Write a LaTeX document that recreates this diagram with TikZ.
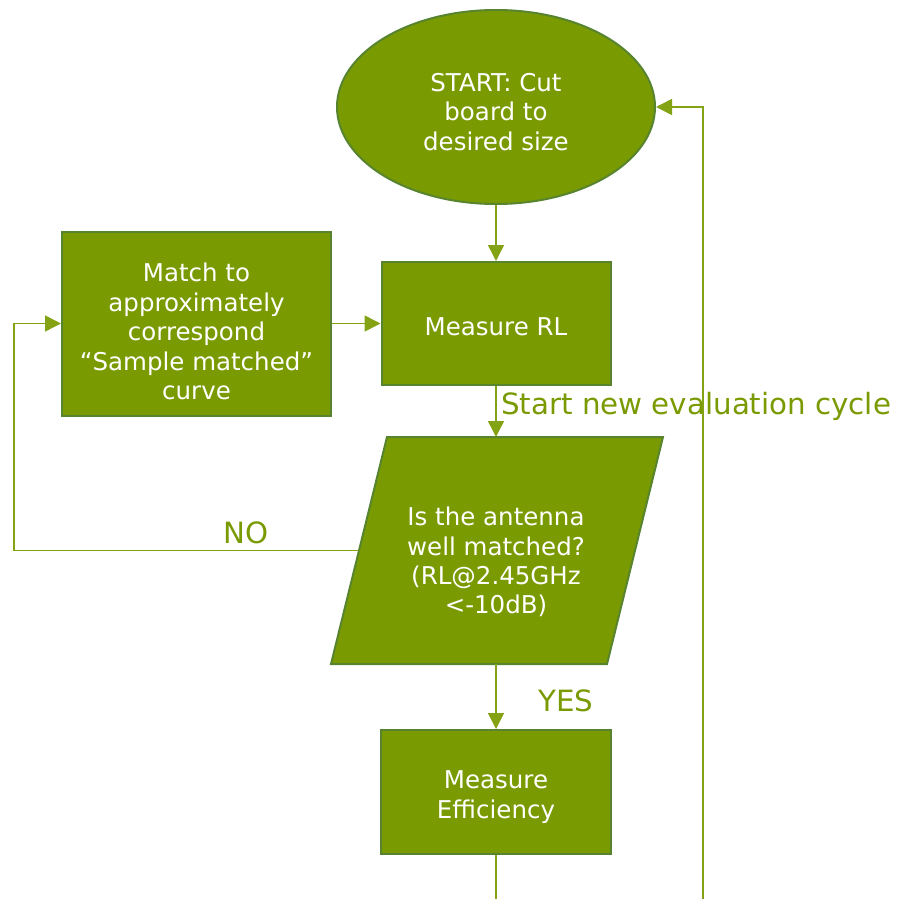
\documentclass[tikz,border=0pt]{standalone}
\usepackage{fontspec}
\setmainfont{DejaVu Sans}
\usetikzlibrary{shapes.geometric,arrows.meta}
\definecolor{boxfill}{RGB}{122,154,1}
\definecolor{boxline}{RGB}{88,132,48}
\definecolor{conn}{RGB}{132,163,20}
\definecolor{lbl}{RGB}{122,154,1}
\tikzset{
  shapebase/.style={fill=boxfill,draw=boxline,line width=2pt,inner sep=0pt},
  procbox/.style={shapebase,rectangle},
  startell/.style={shapebase,ellipse},
  txt/.style={text=white,align=center,inner sep=0pt,font=\fontsize{24.5}{29.4}\selectfont},
  arr/.style={draw=conn,line width=1.5pt,-{Triangle[length=16pt,width=16pt]}},
  ln/.style={draw=conn,line width=1.5pt},
  lab/.style={text=lbl,inner sep=0pt,anchor=base,font=\fontsize{29.3}{34}\selectfont}
}
\begin{document}
\begin{tikzpicture}[x=1pt,y=-1pt]
\useasboundingbox (0,0) rectangle (898,899);
% shapes
\node[startell,minimum width=318pt,minimum height=194pt] (start) at (496,107) {};
\node[procbox,minimum width=229pt,minimum height=123pt] (mrl) at (496,323.5) {};
\node[procbox,minimum width=269pt,minimum height=184pt] (match) at (196.5,323.5) {};
\coordinate (dbl) at (331,664);
\coordinate (dbr) at (607,664);
\coordinate (dtr) at (663,437);
\coordinate (dtl) at (387,437);
\filldraw[fill=boxfill,draw=boxline,line width=2pt,line join=miter] (dbl) -- (dbr) -- (dtr) -- (dtl) -- cycle;
\coordinate (dectop) at (496,437);
\coordinate (decbot) at (496,664);
\coordinate (decw) at (359,550.5);
\node[procbox,minimum width=230pt,minimum height=124pt] (me) at (496,792) {};
% texts
\node[txt,yshift=-5pt] (starttxt) at (start.center) {START: Cut\\board to\\desired size};
\node[txt,yshift=-3pt] (mrltxt) at (mrl.center) {Measure RL};
\node[txt,yshift=-8pt] (matchtxt) at (match.center) {Match to\\approximately\\correspond\\“Sample matched”\\curve};
\node[txt] (dectxt) at (496,562) {Is the antenna\\well matched?\\(RL@2.45GHz\\<-10dB)};
\node[txt,yshift=-5pt] (metxt) at (me.center) {Measure\\Efficiency};
% connectors
\coordinate (bend) at (496,899);
\coordinate (rb) at (703,899);
\coordinate (nl) at (14,550.5);
\draw[arr] (start.south) -- (mrl.north);
\draw[arr] (match.east) -- (mrl.west);
\draw[arr] (mrl.south) -- (dectop);
\draw[arr] (decbot) -- (me.north);
\draw[ln] (me.south) -- (bend);
\draw[arr] (rb) |- (start.east);
\draw[arr] (decw) -- (nl) |- (match.west);
% labels
\node[lab,anchor=base west] (cyc) at (501,414) {Start new evaluation cycle};
\node[lab] (no) at (246,543) {NO};
\node[lab] (yes) at (566,711) {YES};
\end{tikzpicture}
\end{document}
